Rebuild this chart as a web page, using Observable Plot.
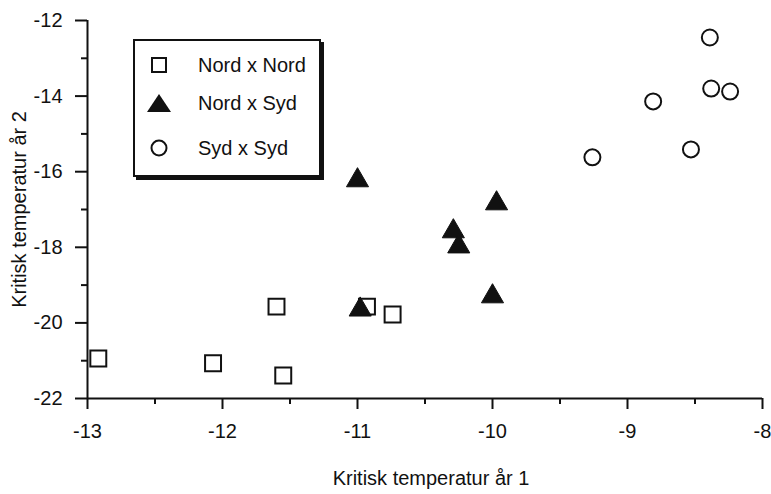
<!DOCTYPE html>
<html>
<head>
<meta charset="utf-8">
<script src="https://cdn.jsdelivr.net/npm/d3@7"></script>
<script src="https://cdn.jsdelivr.net/npm/@observablehq/plot@0.6"></script>
<style>
  html, body { margin: 0; padding: 0; background: #fff; }
  #wrap { position: relative; width: 771px; height: 494px; font-family: "Liberation Sans", Arial, Helvetica, sans-serif; }
  #legend { position: absolute; left: 133px; top: 39px; width: 188px; height: 138px; box-sizing: border-box;
    border: 2px solid #111; box-shadow: 3px 3px 0 #111; background: #fff; }
  .row { position: absolute; left: 0; height: 24px; display: flex; align-items: center; font-size: 20px; color: #111; }
  .row svg { position: absolute; left: 12px; }
  .row span { position: absolute; left: 63px; white-space: nowrap; }
</style>
</head>
<body>
<div id="wrap"></div>
<script>
// Data
const series = ["Nord x Nord", "Nord x Syd", "Syd x Syd"];
const nnX = [-12.92, -12.07, -11.60, -11.55, -10.93, -10.74];
const nnY = [-20.94, -21.07, -19.57, -21.39, -19.57, -19.78];
const nsX = [-11.00, -10.98, -9.97, -10.29, -10.25, -10.00];
const nsY = [-16.23, -19.65, -16.84, -17.58, -17.98, -19.30];
const ssX = [-8.39, -8.38, -8.24, -8.81, -8.53, -9.26];
const ssY = [-12.45, -13.80, -13.88, -14.14, -15.41, -15.62];
const xTicks = [-13, -12, -11, -10, -9, -8];
const yTicks = [-22, -20, -18, -16, -14, -12];
const xMinor = [-12.5, -11.5, -10.5, -9.5, -8.5];
const yMinor = [-21, -19, -17, -15, -13];
const xLabel = "Kritisk temperatur år 1";
const yLabel = "Kritisk temperatur år 2";

const toRows = (xs, ys) => xs.map((x, i) => ({x, y: ys[i]}));
const nn = toRows(nnX, nnY), ns = toRows(nsX, nsY), ss = toRows(ssX, ssY);

const ink = "#111";
const chart = Plot.plot({
  width: 771,
  height: 494,
  marginLeft: 87,
  marginRight: 9,
  marginTop: 20,
  marginBottom: 96,
  style: {fontFamily: '"Liberation Sans", Arial, Helvetica, sans-serif', fontSize: "20px", color: ink, background: "#fff"},
  x: {domain: [-13, -8]},
  y: {domain: [-22, -12]},
  marks: [
    Plot.axisX({ticks: xTicks, tickSize: 11, tickPadding: 14, tickFormat: d => String(d), strokeWidth: 2, label: null, fontSize: 20}),
    Plot.axisX({ticks: xMinor, tickSize: 6, text: null, strokeWidth: 2, label: null}),
    Plot.axisY({ticks: yTicks, tickSize: 12, tickPadding: 13, tickFormat: d => String(d), strokeWidth: 2, label: null, fontSize: 20}),
    Plot.axisY({ticks: yMinor, tickSize: 6, text: null, strokeWidth: 2, label: null}),
    Plot.ruleY([-22], {stroke: ink, strokeWidth: 2}),
    Plot.ruleX([-13], {stroke: ink, strokeWidth: 2}),
    Plot.text([xLabel], {frameAnchor: "bottom", dx: 6, dy: 86, fontSize: 20, fill: ink}),
    Plot.text([yLabel], {frameAnchor: "left", textAnchor: "middle", dx: -68, rotate: -90, fontSize: 20, fill: ink}),
    Plot.dot(nn, {x: "x", y: "y", symbol: "square", r: 9, stroke: ink, strokeWidth: 2, fill: "#fff"}),
    Plot.dot(ns, {x: "x", y: "y", symbol: "triangle", r: 8.2, fill: ink, stroke: ink, strokeWidth: 1}),
    Plot.dot(ss, {x: "x", y: "y", symbol: "circle", r: 8, stroke: ink, strokeWidth: 2, fill: "none"})
  ]
});
const wrap = document.getElementById("wrap");
wrap.appendChild(chart);

// Legend (inside plot area, boxed with drop shadow)
const legend = document.createElement("div");
legend.id = "legend";
const syms = [
  '<rect x="5" y="5" width="14" height="14" fill="#fff" stroke="#111" stroke-width="2"/>',
  '<path d="M12,3 L24,21 L0,21 Z" fill="#111"/>',
  '<circle cx="12" cy="12" r="7.5" fill="none" stroke="#111" stroke-width="2"/>'
];
const rowTops = [12, 50, 95];
series.forEach((s, i) => {
  const row = document.createElement("div");
  row.className = "row";
  row.style.top = rowTops[i] + "px";
  row.innerHTML = `<svg width="24" height="24" viewBox="0 0 24 24">${syms[i]}</svg><span>${s}</span>`;
  legend.appendChild(row);
});
wrap.appendChild(legend);
</script>
</body>
</html>
